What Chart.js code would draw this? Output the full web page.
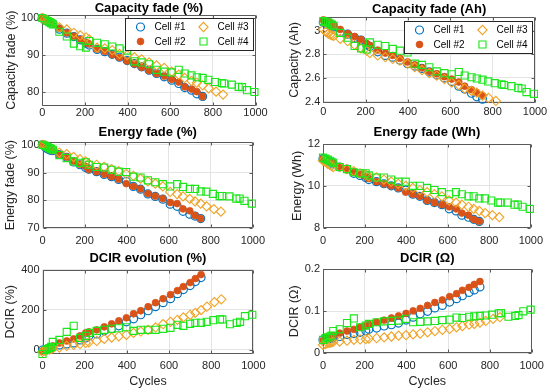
<!DOCTYPE html>
<html>
<head>
<meta charset="utf-8">
<script src="https://cdn.jsdelivr.net/npm/chart.js@4.4.1/dist/chart.umd.min.js"></script>
<style>
  body { margin: 0; background: #fff; }
  #fig { position: relative; width: 550px; height: 392px; overflow: hidden; background: #fff; }
  #fig canvas { position: absolute; }
</style>
</head>
<body>
<div id="fig"></div>
<script>
// ---- data ----
const cellNames = ["Cell #1", "Cell #2", "Cell #3", "Cell #4"];
const xTicks = [0, 200, 400, 600, 800, 1000];

// check-up cycles per cell
const cyclesCell12 = [0, 12, 23, 33, 41, 49, 80, 115, 148, 178, 205, 220, 257, 293, 328, 362, 398, 432, 466, 501, 536, 572, 607, 640, 668, 700, 725, 752];
const cyclesCell3 = [0, 12, 23, 33, 41, 49, 80, 115, 148, 178, 205, 220, 257, 293, 328, 362, 398, 432, 466, 501, 536, 572, 607, 640, 668, 700, 725, 752, 780, 815, 848];
const cyclesCell3Ah = [0, 12, 23, 33, 41, 49, 80, 115, 148, 178, 205, 220, 257, 293, 328, 362, 398, 432, 466, 501, 536, 572, 607, 640, 668, 700, 725, 752, 780, 815];
const cyclesCell4 = [0, 12, 23, 33, 41, 49, 80, 115, 148, 178, 205, 220, 257, 293, 328, 362, 398, 432, 466, 501, 536, 572, 607, 640, 668, 700, 725, 752, 779, 810, 842, 853, 889, 921, 937, 960, 995];

// Capacity fade (%)
const capPct1 = [100, 99.6, 99.2, 98.9, 98.7, 98.5, 97.0, 95.9, 95.0, 94.1, 93.2, 92.7, 91.5, 90.9, 90.2, 89.4, 88.5, 87.7, 86.8, 85.9, 85.0, 84.1, 83.2, 82.3, 81.2, 80.5, 79.5, 78.8];
const capPct2 = [100, 99.7, 99.3, 99.0, 98.8, 98.6, 97.2, 96.0, 95.1, 94.2, 93.4, 93.0, 91.6, 91.0, 90.1, 89.3, 88.4, 87.6, 86.7, 85.8, 85.0, 84.3, 83.4, 82.7, 81.4, 80.8, 80.1, 78.8];
const capPct3 = [100, 99.7, 99.4, 99.1, 98.9, 98.7, 97.5, 96.9, 96.0, 95.3, 94.8, 94.2, 92.0, 91.8, 91.3, 90.3, 90.0, 89.4, 88.8, 88.0, 87.2, 86.5, 85.5, 84.7, 83.8, 83.0, 82.5, 81.8, 81.0, 80.1, 79.3];
const capPct4 = [100, 99.6, 99.2, 98.9, 98.6, 98.3, 96.3, 95.0, 93.1, 92.4, 92.0, 93.8, 93.3, 92.9, 92.3, 91.8, 91.2, 88.3, 88.0, 87.5, 86.0, 85.5, 85.3, 86.0, 85.0, 84.5, 84.0, 83.8, 83.3, 82.7, 82.4, 82.3, 82.0, 81.4, 81.3, 80.5, 80.0];

// Capacity fade (Ah)
const capAh1 = [3.07, 3.06, 3.05, 3.04, 3.035, 3.03, 2.99, 2.97, 2.94, 2.92, 2.88, 2.865, 2.82, 2.79, 2.775, 2.75, 2.72, 2.70, 2.68, 2.65, 2.625, 2.60, 2.57, 2.53, 2.505, 2.47, 2.44, 2.42];
const capAh2 = [3.09, 3.085, 3.075, 3.065, 3.055, 3.045, 3.01, 2.975, 2.95, 2.925, 2.89, 2.875, 2.835, 2.81, 2.79, 2.765, 2.735, 2.71, 2.685, 2.655, 2.635, 2.61, 2.59, 2.565, 2.53, 2.50, 2.475, 2.45];
const capAh3 = [3.01, 2.99, 2.975, 2.965, 2.96, 2.955, 2.93, 2.91, 2.88, 2.85, 2.83, 2.81, 2.79, 2.775, 2.76, 2.745, 2.72, 2.69, 2.665, 2.64, 2.62, 2.59, 2.56, 2.54, 2.51, 2.49, 2.475, 2.45, 2.43, 2.405];
const capAh4 = [3.08, 3.075, 3.07, 3.06, 3.05, 3.04, 2.98, 2.94, 2.87, 2.85, 2.84, 2.90, 2.88, 2.87, 2.845, 2.83, 2.815, 2.72, 2.71, 2.69, 2.655, 2.64, 2.63, 2.65, 2.62, 2.605, 2.595, 2.585, 2.57, 2.555, 2.545, 2.54, 2.53, 2.515, 2.51, 2.48, 2.465];

// Energy fade (%)
const enPct1 = [100, 99.2, 98.6, 98.2, 98.0, 97.9, 96.5, 95.5, 93.8, 92.8, 91.8, 91.2, 90.3, 89.3, 88.5, 87.5, 86.8, 85.0, 84.0, 82.3, 81.4, 80.4, 78.6, 77.8, 76.0, 75.0, 74.3, 73.4];
const enPct2 = [100, 99.4, 98.8, 98.4, 98.2, 98.0, 96.6, 95.6, 94.1, 93.0, 92.2, 91.1, 90.3, 89.4, 88.5, 87.6, 86.0, 85.0, 84.1, 82.4, 81.5, 80.6, 79.2, 78.8, 76.9, 76.2, 74.5, 73.4];
const enPct3 = [100, 99.8, 99.4, 99.0, 98.7, 98.4, 97.2, 96.6, 95.6, 94.8, 94.0, 93.2, 92.8, 92.0, 91.2, 90.5, 89.5, 88.8, 87.8, 86.8, 86.0, 85.0, 83.0, 82.2, 81.4, 80.5, 79.6, 78.8, 77.8, 76.8, 75.9];
const enPct4 = [100, 99.6, 99.2, 98.8, 98.5, 98.2, 96.3, 95.2, 94.0, 93.5, 93.7, 92.8, 92.0, 91.8, 91.0, 90.3, 90.2, 88.5, 88.2, 87.2, 86.5, 85.8, 85.0, 85.8, 84.8, 84.1, 84.1, 83.2, 83.1, 82.3, 81.5, 81.5, 81.4, 80.6, 80.6, 79.8, 78.8];

// Energy fade (Wh)
const enWh1 = [11.3, 11.25, 11.2, 11.15, 11.1, 11.05, 10.9, 10.8, 10.6, 10.5, 10.4, 10.3, 10.2, 10.1, 10.0, 9.9, 9.8, 9.6, 9.5, 9.3, 9.2, 9.1, 8.9, 8.8, 8.6, 8.5, 8.4, 8.3];
const enWh2 = [11.3, 11.3, 11.2, 11.15, 11.1, 11.1, 10.9, 10.8, 10.65, 10.55, 10.45, 10.35, 10.2, 10.1, 10.0, 9.9, 9.7, 9.6, 9.5, 9.3, 9.2, 9.1, 9.0, 8.9, 8.7, 8.6, 8.4, 8.3];
const enWh3 = [11.2, 11.15, 11.05, 11.0, 10.95, 10.9, 10.9, 10.8, 10.7, 10.6, 10.55, 10.45, 10.4, 10.3, 10.2, 10.1, 10.0, 9.9, 9.8, 9.7, 9.6, 9.5, 9.3, 9.2, 9.1, 9.0, 8.9, 8.8, 8.7, 8.6, 8.5];
const enWh4 = [11.35, 11.3, 11.25, 11.2, 11.15, 11.1, 10.9, 10.8, 10.65, 10.6, 10.6, 10.5, 10.4, 10.4, 10.3, 10.2, 10.2, 10.0, 10.0, 9.9, 9.8, 9.7, 9.6, 9.7, 9.6, 9.5, 9.5, 9.4, 9.4, 9.3, 9.2, 9.2, 9.2, 9.1, 9.1, 9.0, 8.9];

// DCIR evolution (%)
const dcirPct1 = [0, 2, 5, 8, 10, 12, 25, 30, 35, 50, 60, 70, 80, 95, 105, 120, 140, 155, 175, 195, 215, 235, 255, 280, 300, 320, 340, 360];
const dcirPct2 = [-5, 0, 5, 10, 15, 20, 35, 45, 55, 70, 85, 90, 100, 115, 130, 145, 160, 180, 195, 215, 235, 255, 275, 295, 315, 335, 355, 375];
const dcirPct3 = [-10, -5, 0, 2, 5, 8, 12, 20, 25, 30, 35, 38, 45, 55, 62, 68, 75, 85, 92, 100, 112, 128, 140, 150, 162, 175, 185, 198, 215, 238, 252];
const dcirPct4 = [-20, 0, 5, 10, 15, 40, 50, 90, 120, 60, 70, 85, 95, 100, 105, 108, 113, 95, 100, 100, 100, 105, 110, 125, 120, 130, 135, 135, 140, 148, 152, 152, 128, 135, 140, 168, 175];

// DCIR (Ohm)
const dcirOhm1 = [0.032, 0.033, 0.034, 0.035, 0.036, 0.037, 0.040, 0.045, 0.047, 0.050, 0.054, 0.057, 0.060, 0.065, 0.068, 0.072, 0.079, 0.086, 0.094, 0.100, 0.108, 0.114, 0.122, 0.130, 0.137, 0.145, 0.151, 0.158];
const dcirOhm2 = [0.030, 0.033, 0.036, 0.038, 0.040, 0.042, 0.048, 0.053, 0.057, 0.062, 0.066, 0.069, 0.074, 0.079, 0.084, 0.089, 0.095, 0.101, 0.107, 0.114, 0.121, 0.127, 0.135, 0.142, 0.150, 0.157, 0.164, 0.171];
const dcirOhm3 = [0.020, 0.022, 0.024, 0.025, 0.026, 0.027, 0.028, 0.030, 0.032, 0.033, 0.034, 0.035, 0.036, 0.038, 0.040, 0.042, 0.043, 0.045, 0.047, 0.050, 0.053, 0.056, 0.058, 0.062, 0.065, 0.068, 0.070, 0.073, 0.077, 0.082, 0.086];
const dcirOhm4 = [0.032, 0.036, 0.038, 0.040, 0.042, 0.053, 0.057, 0.072, 0.083, 0.062, 0.066, 0.070, 0.074, 0.076, 0.077, 0.078, 0.082, 0.074, 0.075, 0.076, 0.077, 0.079, 0.080, 0.085, 0.084, 0.087, 0.088, 0.089, 0.090, 0.092, 0.095, 0.096, 0.087, 0.089, 0.091, 0.100, 0.104];

// y ticks per panel
const yTicksCapPct = [80, 90, 100];
const yTicksCapAh = [2.4, 2.6, 2.8, 3];
const yTicksEnPct = [70, 80, 90, 100];
const yTicksEnWh = [8, 10, 12];
const yTicksDcirPct = [0, 200, 400];
const yTicksDcirOhm = [0, 0.1, 0.2];

// ---- styling ----
const FONT = '"Liberation Sans", Arial, Helvetica, sans-serif';
Chart.defaults.font.family = FONT;
Chart.defaults.color = '#262626';

const markerStyles = [
  { pointStyle: 'circle', pointRadius: 4, borderColor: '#0072BD', backgroundColor: 'rgba(0,0,0,0)', borderWidth: 1.2 },
  { pointStyle: 'circle', pointRadius: 3.4, borderColor: '#D95319', backgroundColor: '#D95319', borderWidth: 0.8 },
  { pointStyle: 'rectRot', pointRadius: 4.6, borderColor: '#F0A428', backgroundColor: 'rgba(0,0,0,0)', borderWidth: 1.1 },
  { pointStyle: 'rect', pointRadius: 5, borderColor: '#1AE61A', backgroundColor: 'rgba(0,0,0,0)', borderWidth: 1.1 }
];

const panels = [
  { title: 'Capacity fade (%)', ylabel: 'Capacity fade (%)', xs: [cyclesCell12, cyclesCell12, cyclesCell3, cyclesCell4],
    ys: [capPct1, capPct2, capPct3, capPct4], yMin: 76.3, yMax: 100.9, yTicks: yTicksCapPct, legend: true,
    col: 0, area: { l: 42.3, r: 255.5, t: 14.7, b: 105.7 }, titleGap: 6.5, yLabelX: 11.7, xTickGap: 7 },
  { title: 'Capacity fade (Ah)', ylabel: 'Capacity (Ah)', xs: [cyclesCell12, cyclesCell12, cyclesCell3Ah, cyclesCell4],
    ys: [capAh1, capAh2, capAh3, capAh4], yMin: 2.39, yMax: 3.115, yTicks: yTicksCapAh, legend: true,
    col: 1, area: { l: 323.3, r: 535, t: 17, b: 102.7 }, titleGap: 7.5, yLabelX: 20, xTickGap: 9.3 },
  { title: 'Energy fade (%)', ylabel: 'Energy fade (%)', xs: [cyclesCell12, cyclesCell12, cyclesCell3, cyclesCell4],
    ys: [enPct1, enPct2, enPct3, enPct4], yMin: 70, yMax: 100.9, yTicks: yTicksEnPct,
    col: 0, area: { l: 42.5, r: 255.5, t: 142.3, b: 228 }, titleGap: 10, yLabelX: 10.8, xTickGap: 12.5 },
  { title: 'Energy fade (Wh)', ylabel: 'Energy (Wh)', xs: [cyclesCell12, cyclesCell12, cyclesCell3, cyclesCell4],
    ys: [enWh1, enWh2, enWh3, enWh4], yMin: 8, yMax: 12, yTicks: yTicksEnWh,
    col: 1, area: { l: 323, r: 535, t: 144, b: 227.7 }, titleGap: 12, yLabelX: 22.8, xTickGap: 13.5 },
  { title: 'DCIR evolution (%)', ylabel: 'DCIR (%)', xs: [cyclesCell12, cyclesCell12, cyclesCell3, cyclesCell4],
    ys: [dcirPct1, dcirPct2, dcirPct3, dcirPct4], yMin: -20, yMax: 400, yTicks: yTicksDcirPct, xlabel: true,
    col: 0, area: { l: 42.5, r: 255.5, t: 269.5, b: 354 }, titleGap: 11, yLabelX: 11, xTickGap: 12 },
  { title: 'DCIR (\u03A9)', ylabel: 'DCIR (\u03A9)', xs: [cyclesCell12, cyclesCell12, cyclesCell3, cyclesCell4],
    ys: [dcirOhm1, dcirOhm2, dcirOhm3, dcirOhm4], yMin: 0, yMax: 0.2, yTicks: yTicksDcirOhm, xlabel: true,
    col: 1, area: { l: 323, r: 535, t: 269.3, b: 353.3 }, titleGap: 11, yLabelX: 19.5, xTickGap: 12.7 }
];

// MATLAB-like axes box with inward ticks
const boxPlugin = {
  id: 'axesBox',
  beforeDatasetsDraw(chart) {
    const { ctx, chartArea: a, scales: { x, y } } = chart;
    const L = Math.round(a.left) + 0.5, R = Math.round(a.right) - 0.5;
    const T = Math.round(a.top) + 0.5, B = Math.round(a.bottom) - 0.5;
    ctx.save();
    ctx.strokeStyle = '#5a5a5a';
    ctx.lineWidth = 1;
    ctx.beginPath();
    ctx.rect(L, T, R - L, B - T);
    x.ticks.forEach(t => {
      const px = Math.round(x.getPixelForValue(t.value)) + 0.5;
      ctx.moveTo(px, B); ctx.lineTo(px, B - 3);
      ctx.moveTo(px, T); ctx.lineTo(px, T + 3);
    });
    y.ticks.forEach(t => {
      const py = Math.round(y.getPixelForValue(t.value)) + 0.5;
      ctx.moveTo(L, py); ctx.lineTo(L + 3, py);
      ctx.moveTo(R, py); ctx.lineTo(R - 3, py);
    });
    ctx.stroke();
    ctx.restore();
  }
};

function drawMarker(ctx, ds, x, y) {
  ctx.save();
  ctx.strokeStyle = ds.borderColor;
  ctx.fillStyle = ds.backgroundColor;
  ctx.lineWidth = ds.borderWidth;
  Chart.helpers.drawPoint(ctx, { pointStyle: ds.pointStyle, radius: ds.pointRadius, borderWidth: ds.borderWidth, rotation: 0 }, x, y);
  ctx.restore();
}

// legend boxed in the upper right corner, two columns
const cellLegend = {
  id: 'cellLegend',
  afterDatasetsDraw(chart, args, opts) {
    if (!opts.show) return;
    const { ctx, chartArea: a } = chart;
    const w = 128, h = 32;
    const bx = Math.round(a.right - w - 2) - 0.5, by = Math.round(a.top + 3.5) + 0.5;
    ctx.save();
    ctx.fillStyle = '#fff';
    ctx.fillRect(bx, by, w, h);
    ctx.strokeStyle = '#262626';
    ctx.lineWidth = 1;
    ctx.strokeRect(bx, by, w, h);
    const slots = [[15, 8.5], [15, 23], [78, 8.5], [78, 23]];
    chart.data.datasets.forEach((ds, i) => {
      const [mx, my] = slots[i];
      drawMarker(ctx, ds, bx + mx, by + my);
      ctx.fillStyle = '#000';
      ctx.font = '10px ' + FONT;
      ctx.textBaseline = 'middle';
      ctx.textAlign = 'left';
      ctx.fillText(ds.label, bx + mx + 14, by + my + 0.5);
    });
    ctx.restore();
  }
};

const fig = document.getElementById('fig');

panels.forEach(p => {
  const cLeft = p.col === 0 ? 0 : 275;
  const cTop = Math.floor(p.area.t - 24);
  const titleBox = p.area.t - cTop;
  const tPadTop = titleBox - p.titleGap - 6.5;
  const tPadBottom = titleBox - 13 - tPadTop;
  const yW = p.area.l - cLeft;
  const xH = p.xlabel ? 40 : 24;
  const cW = Math.ceil(p.area.r - cLeft + 15);
  const padR = cW - (p.area.r - cLeft);
  const cH = Math.ceil(p.area.b - cTop + xH);
  const padB = cH - (p.area.b - cTop) - xH;

  const canvas = document.createElement('canvas');
  canvas.width = cW;
  canvas.height = cH;
  canvas.style.left = cLeft + 'px';
  canvas.style.top = cTop + 'px';
  fig.appendChild(canvas);

  const datasets = cellNames.map((name, i) => Object.assign({
    label: name,
    data: p.xs[i].map((x, k) => ({ x: x, y: p.ys[i][k] })),
    showLine: false,
    clip: false,
    order: 4 - i
  }, markerStyles[i]));

  new Chart(canvas, {
    type: 'scatter',
    data: { datasets: datasets },
    options: {
      responsive: false,
      animation: false,
      events: [],
      layout: { padding: { left: 0, top: 0, right: padR, bottom: padB } },
      plugins: {
        legend: { display: false },
        tooltip: { enabled: false },
        title: {
          display: true, text: p.title, color: '#000', fullSize: false,
          font: { size: 13, weight: 'bold', lineHeight: 1 },
          padding: { top: tPadTop, bottom: tPadBottom }
        },
        cellLegend: { show: !!p.legend }
      },
      scales: {
        x: {
          type: 'linear', min: 0, max: 1000,
          afterBuildTicks: s => { s.ticks = xTicks.map(v => ({ value: v })); },
          afterFit: s => { s.height = xH; },
          grid: { color: '#e4e4e4', drawTicks: false },
          border: { display: false },
          ticks: { padding: p.xTickGap - 6.6, font: { size: 11 }, color: '#262626', autoSkip: false, maxRotation: 0, callback: v => String(v) },
          title: { display: !!p.xlabel, text: 'Cycles', color: '#262626', font: { size: 12.5 }, padding: { top: 0, bottom: p.area.b + xH - 381.7 - 7.5 } }
        },
        y: {
          type: 'linear', min: p.yMin, max: p.yMax,
          afterBuildTicks: s => { s.ticks = p.yTicks.map(v => ({ value: v })); },
          afterFit: s => { s.width = yW; },
          grid: { color: '#e4e4e4', drawTicks: false },
          border: { display: false },
          ticks: { padding: 3, font: { size: 11 }, color: '#262626', autoSkip: false, callback: v => String(v) },
          title: { display: true, text: p.ylabel, color: '#262626', font: { size: 12.5 }, padding: { top: p.yLabelX - 7.5, bottom: 0 } }
        }
      }
    },
    plugins: [boxPlugin, cellLegend]
  });
});
</script>
</body>
</html>
